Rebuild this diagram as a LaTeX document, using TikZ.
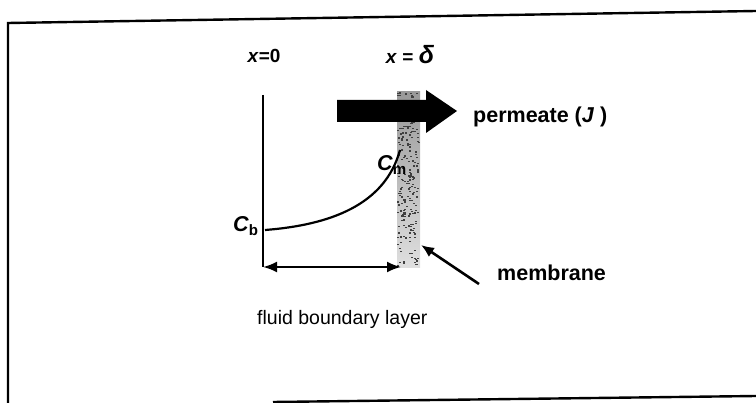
\documentclass[tikz,border=0pt]{standalone}
\usepackage{fontspec}
\setmainfont{Liberation Sans}
\usetikzlibrary{arrows.meta}
\begin{document}
\begin{tikzpicture}[
  x=1pt, y=-1pt,
  uf04frame/.style = {line width=2.4pt},
  uf04dim/.style = {line width=2.2pt, {Latex[length=14pt,width=11pt]}-{Latex[length=14pt,width=11pt]}},
  uf04ptr/.style = {line width=2.6pt, -{Latex[length=13pt,width=11pt]}},
  uf04curve/.style = {line width=2.2pt},
  uf04lbl/.style = {font=\fontsize{21.5}{24}\selectfont\bfseries, inner sep=0pt},
  uf04sym/.style = {font=\fontsize{19}{22}\selectfont\bfseries, inner sep=0pt}
]
  \useasboundingbox (0,0) rectangle (756,403);
  % Rahmen
  \draw[uf04frame] (8,403) -- (8,23) -- (756,11);
  \draw[uf04frame] (273,402) -- (756,396);
  % Membran
  \shade[top color=gray!80, middle color=gray!50, bottom color=gray!25] (397,92) rectangle (420,268);
  \pgfmathsetseed{11}
  \foreach \i in {1,...,220} {
    \pgfmathsetmacro{\rx}{397+21*rnd}
    \pgfmathsetmacro{\ry}{92+174*rnd}
    \fill[black!75] (\rx,\ry) rectangle ++(2,1.3);
  }
  % Permeatfluss
  \fill (337,100) -- (426,100) -- (426,90) -- (457,111) -- (426,133) -- (426,122) -- (337,122) -- cycle;
  % Grenzschicht
  \coordinate (x0top) at (263,95);
  \coordinate (x0bot) at (263,267);
  \coordinate (memfoot) at (401,267);
  \coordinate (memtip) at (421,245);
  \coordinate (memtail) at (479,284);
  \draw[line width=1.2pt] (x0top) -- (x0bot);
  \draw[uf04dim] (x0bot) -- (memfoot);
  \draw[uf04curve] (265,230) .. controls (330,225) and (385,205) .. (400,150);
  % Beschriftung
  \node[uf04sym, anchor=base] (xnull) at (264,63) {\textit{x}=0};
  \node[uf04sym, anchor=base] (xdelta) at (410,64) {\textit{x} = \fontsize{25}{26}\selectfont\textit{δ}};
  \node[uf04lbl, anchor=base west] (perm) at (473,123) {permeate (\textit{J} )};
  \node[uf04lbl, anchor=base west] (mlbl) at (497,281) {membrane};
  \node[font=\fontsize{19.5}{22}\selectfont, inner sep=0pt, anchor=base west] (fbl) at (257,325) {fluid boundary layer};
  \node[uf04lbl, anchor=base west] (cb) at (233,232) {\textit{C}\textsubscript{b}};
  \node[uf04lbl, anchor=base west] (cm) at (377,171) {\textit{C}\textsubscript{m}};
  \draw[uf04ptr] (memtail) -- (memtip);
\end{tikzpicture}
\end{document}
